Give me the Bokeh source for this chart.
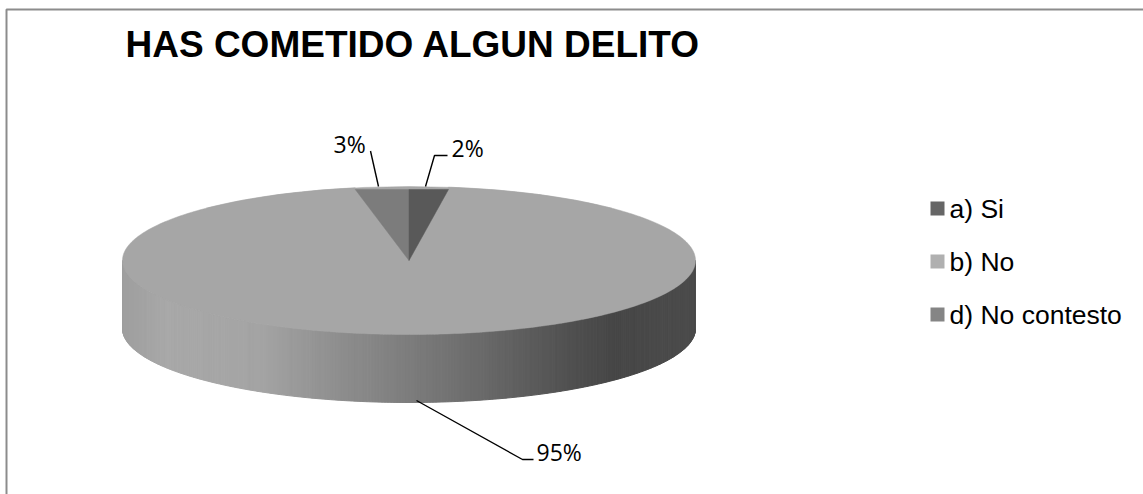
import math
from bokeh.plotting import figure
from bokeh.models import Range1d
from bokeh.embed import file_html
from bokeh.resources import INLINE
from bokeh.core.properties import value

title = "HAS COMETIDO ALGUN DELITO"
categories = ["a) Si", "b) No", "d) No contesto"]
shares = [2.2, 94.8, 3.0]
labels = ["2%", "95%", "3%"]
top_colors = ["#595959", "#a6a6a6", "#7c7c7c"]
legend_colors = ["#666666", "#b0b0b0", "#858585"]

# pie geometry (page pixels)
CX, CY, RX, RY, DEPTH = 408.5, 260, 286.5, 74, 68
WEDGE_TOP = 189
# side shading: (fraction across the pie's width, grey level)
SIDE_RAMP = [(0, 0x9e), (0.08, 0xa8), (0.24, 0xa4), (0.39, 0x8c), (0.5, 0x7d),
             (0.65, 0x66), (0.79, 0x4f), (0.86, 0x46), (1, 0x4c)]
W, H = 1143, 494
p = figure(width=W, height=H, x_range=Range1d(0, W), y_range=Range1d(H, 0),
           toolbar_location=None, output_backend="svg", min_border=0,
           x_axis_location=None, y_axis_location=None,
           background_fill_color="white", border_fill_color="white")
p.styles = {"position": "absolute", "left": "0px", "top": "0px"}
p.grid.visible = False
p.outline_line_color = None

# chart frame: only its top and left edges lie inside the picture
p.line([6, 6, 1143], [494, 9, 9], line_color="#8c8c8c", line_width=2)


def ramp(t):
    for (a, ga), (b, gb) in zip(SIDE_RAMP, SIDE_RAMP[1:]):
        if t <= b:
            g = round(ga + (gb - ga) * (t - a) / (b - a))
            return f"#{g:02x}{g:02x}{g:02x}"
    return "#4c4c4c"


# side wall: front half of the ellipse, in thin strips
n = 300
xs, ys, cs = [], [], []
for i in range(n):
    a0 = math.pi * i / n
    a1 = math.pi * (i + 1) / n
    x0, x1 = CX - RX * math.cos(a0), CX - RX * math.cos(a1)
    y0, y1 = CY + RY * math.sin(a0), CY + RY * math.sin(a1)
    xs.append([x0, x1, x1, x0])
    ys.append([y0, y1, y1 + DEPTH, y0 + DEPTH])
    cs.append(ramp((0.5 * (x0 + x1) - (CX - RX)) / (2 * RX)))
p.patches(xs, ys, fill_color=cs, line_color=cs, line_width=1)

# top face, clockwise from 12 o'clock; the biggest slice goes first so that
# the small slices lie on it
total = sum(shares)
start = 0.0
faces = []
for share, color in zip(shares, top_colors):
    end = start + share / total * 2 * math.pi
    m = max(4, int(share * 4))
    angs = [start + (end - start) * k / m for k in range(m + 1)]
    wx = [CX] + [CX + RX * math.sin(t) for t in angs]
    wy = [CY] + [CY - RY * math.cos(t) for t in angs]
    faces.append((share, wx, wy, color))
    start = end
biggest = max(shares)
for share, wx, wy, color in sorted(faces, key=lambda f: -f[0]):
    if share == biggest:
        wx2, wy2 = wx, wy
        # rim behind the small slices
        rx = [CX + RX * math.sin(k / 40 * 2 * math.pi) for k in range(-5, 6)]
        ry = [CY - RY * math.cos(k / 40 * 2 * math.pi) for k in range(-5, 6)]
        p.patch(rx + [CX], ry + [CY], fill_color=color, line_color=color, line_width=0.5)
    else:
        wx2, wy2 = wx, [max(v, WEDGE_TOP) for v in wy]
    p.patch(wx2, wy2, fill_color=color, line_color=color, line_width=0.5)

# leader lines
for lx, ly in [([370, 378], [150.5, 186]),
               ([447, 434, 425], [155, 155, 186]),
               ([416, 522, 533], [400, 459, 459])]:
    p.line(lx, ly, line_color="black", line_width=1.4)

label_pos = [(451, 147), (536, 451), (333, 143)]
for txt, (lx, ly) in zip(labels, label_pos):
    p.text([lx], [ly], text=[txt], text_font=value("Open Sans"), text_font_size="23px",
           text_color="black", text_baseline="middle", text_align="left")

# title
p.text([125], [44], text=[title], text_font=value("Liberation Sans"), text_font_style="bold",
       text_font_size="37px", text_color="black", text_baseline="middle", text_align="left")

# legend
for i, (cat, col) in enumerate(zip(categories, legend_colors)):
    y = 208 + 53 * i
    p.scatter([937], [y], marker="square", size=14, fill_color=col, line_color=None)
    p.text([949], [y + 0.5], text=[cat], text_font=value("Liberation Sans"), text_font_size="26.5px",
           text_color="black", text_baseline="middle", text_align="left")

open("out.html", "w").write(file_html(p, INLINE))
